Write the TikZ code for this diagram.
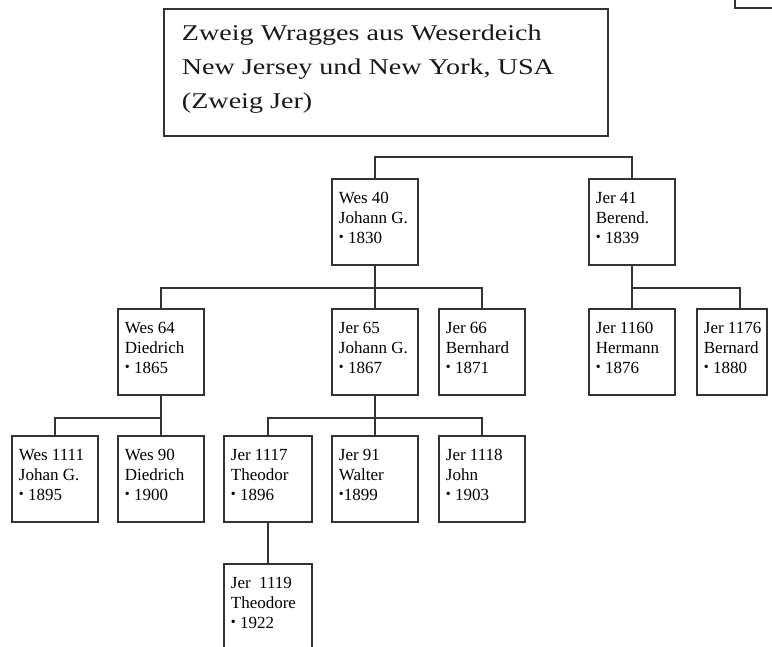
\documentclass[tikz,border=0pt]{standalone}
\usepackage{fontspec}
\setmainfont{Liberation Serif}
\usepackage{graphicx}
\usetikzlibrary{positioning}

\newcommand{\wideline}[1]{\scalebox{1.25}[1]{#1}}
\newcommand{\born}{{\fontsize{14}{14}\selectfont\raisebox{2.5pt}{•}}}
\newcommand{\entry}[4][72]{\parbox[c][86pt][t]{#1pt}{\rule{0pt}{25pt}\mbox{#2}\\\mbox{#3}\\\mbox{#4}}}

\begin{document}
\begin{tikzpicture}[
  x=1pt,y=-1pt,
  line cap=rect,
  line join=miter,
  personbox/.style={draw=black!80,line width=1.8pt,anchor=north west,
    inner xsep=7pt,inner ysep=0pt,text=black,
    font=\fontsize{17}{20}\selectfont},
  titlebox/.style={draw=black!80,line width=1.8pt,anchor=north west,
    inner xsep=18pt,inner ysep=0pt,text=black!90,
    font=\fontsize{22.5}{34}\selectfont},
  link/.style={draw=black!80,line width=1.8pt}
]
% Page size of the scan.
\useasboundingbox (0,0) rectangle (772,647);
\clip (0,0) rectangle (772,647);

% Heading and the cut-off box in the corner.
\node[titlebox] (title) at (163,8) {\parbox[c][127pt][t]{408pt}{%
  \rule{0pt}{32pt}\wideline{Zweig Wragges aus Weserdeich}\\
  \wideline{New Jersey und New York, USA}\\
  \wideline{(Zweig Jer)}}};
\draw[link] (735,-10) rectangle (790,8);

% First generation.
\node[personbox] (w40) at (331,178) {\entry{Wes 40}{Johann G.}{\born\ 1830}};
\node[personbox] (j41) at (588,178) {\entry{Jer 41}{Berend.}{\born\ 1839}};

% Second generation.
\node[personbox] (w64) at (117,308) {\entry{Wes 64}{Diedrich}{\born\ 1865}};
\node[personbox] (j65) at (331,308) {\entry{Jer 65}{Johann G.}{\born\ 1867}};
\node[personbox] (j66) at (438,308) {\entry{Jer 66}{Bernhard}{\born\ 1871}};
\node[personbox] (j1160) at (588,308) {\entry{Jer 1160}{Hermann}{\born\ 1876}};
\node[personbox] (j1176) at (696,308) {\entry[56]{Jer 1176}{Bernard}{\born\ 1880}};

% Third generation.
\node[personbox] (w1111) at (11,435) {\entry{Wes 1111}{Johan G.}{\born\ 1895}};
\node[personbox] (w90) at (117,435) {\entry{Wes 90}{Diedrich}{\born\ 1900}};
\node[personbox] (j1117) at (223,435) {\entry[74]{Jer 1117}{Theodor}{\born\ 1896}};
\node[personbox] (j91) at (331,435) {\entry{Jer 91}{Walter}{\born1899}};
\node[personbox] (j1118) at (438,435) {\entry{Jer 1118}{John}{\born\ 1903}};

% Fourth generation.
\node[personbox] (j1119) at (223,563) {\entry[74]{Jer\ \ 1119}{Theodore}{\born\ 1922}};

% Lines of descent.
\draw[link] (w40.north) -- ++(0,-21) -| (j41.north);
\draw[link] (w40.south) -- ++(0,22) coordinate (b40) -| (w64.north);
\draw[link] (b40) -| (j66.north);
\draw[link] (b40) -- (j65.north);
\draw[link] (j41.south) -- ++(0,22) coordinate (b41) -- (j1160.north);
\draw[link] (b41) -| ([xshift=8pt]j1176.north);
\draw[link] (w64.south) -- ++(0,22) coordinate (b64) -| (w1111.north);
\draw[link] (b64) -- (w90.north);
\draw[link] (j65.south) -- ++(0,22) coordinate (b65) -| (j1117.north);
\draw[link] (b65) -| (j1118.north);
\draw[link] (b65) -- (j91.north);
\draw[link] (j1117.south) -- (j1119.north);
\end{tikzpicture}
\end{document}
